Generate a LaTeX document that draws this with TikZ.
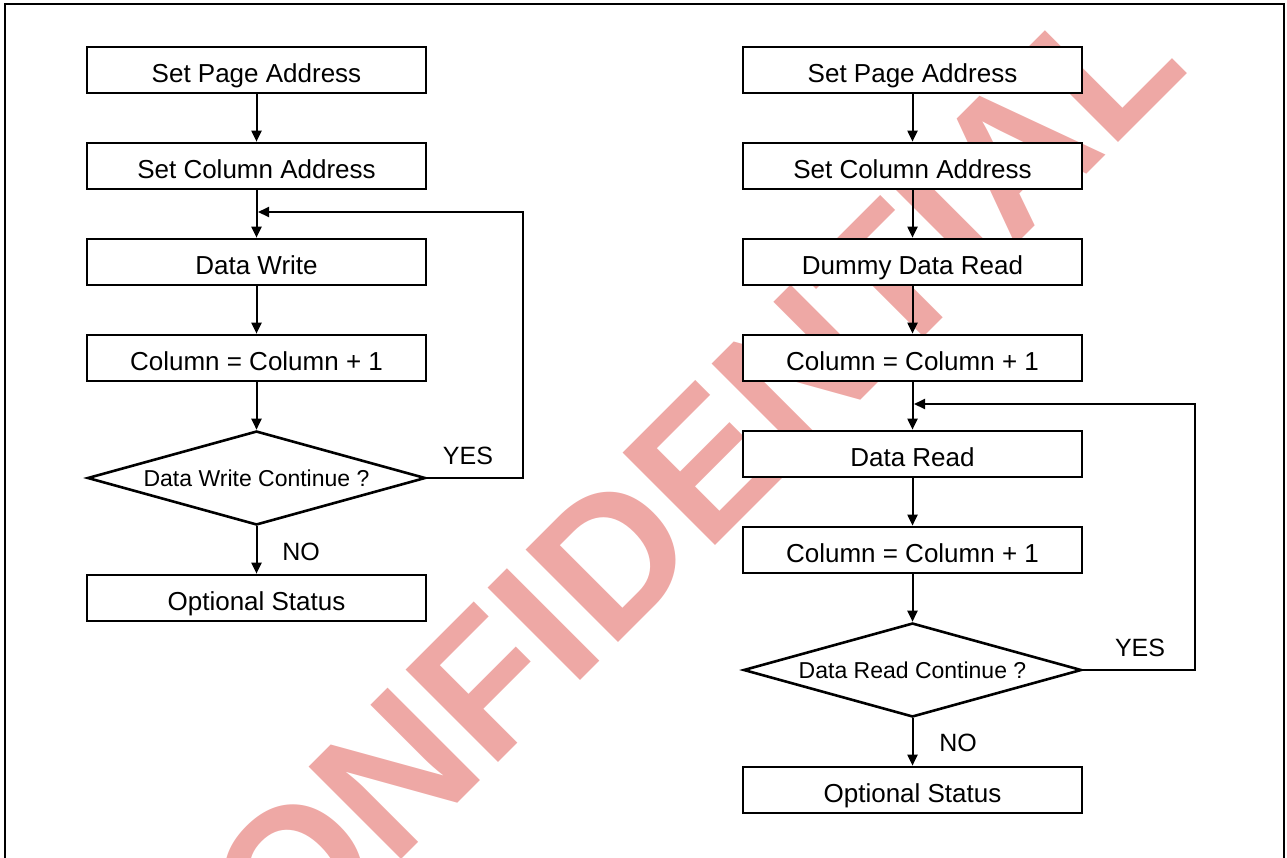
\documentclass[tikz,border=0pt]{standalone}
\usepackage{fontspec}
\setmainfont{Liberation Sans}
\usetikzlibrary{arrows.meta,shapes.geometric}
\definecolor{wmark}{RGB}{238,168,165}
\begin{document}
\begin{tikzpicture}[x=1pt,y=-1pt,
  box/.style={draw, line width=2.7pt, fill=white, minimum width=339pt, minimum height=46pt, inner sep=0pt, text height=24pt, text depth=0pt, font=\fontsize{26}{30}\selectfont},
  dec/.style={draw, diamond, line width=2.6pt, fill=white, aspect=3.55, minimum width=338pt, minimum height=94pt, inner sep=0pt, text height=16pt, text depth=0pt, font=\fontsize{23}{27}\selectfont},
  arr/.style={line width=2pt, -{Triangle[length=11pt,width=10pt]}},
  lbl/.style={font=\fontsize{25}{29}\selectfont, inner sep=0pt},
  wm/.style={text=wmark, font=\fontsize{190}{190}\selectfont\bfseries, inner sep=0pt, rotate=45, anchor=base}]
\useasboundingbox (0,0) rectangle (1287,857);
\clip (0,0) rectangle (1287,857);
% watermark
\node[wm] (wm) at (691.3,569.7) {CONFIDENTIAL};
% frame
\draw[line width=2pt] (5,900) -- (5,4) -- (1284,4) -- (1284,900);
% left flow
\node[box] (l1) at (256.5,70) {Set Page Address};
\node[box] (l2) at (256.5,166) {Set Column Address};
\node[box] (l3) at (256.5,262) {Data Write};
\node[box] (l4) at (256.5,358) {Column = Column + 1};
\node[dec] (ld) at (256.5,478) {Data Write Continue ?};
\node[box] (l5) at (256.5,598) {Optional Status};
\coordinate (lj) at (258,212);
\draw[arr] (l1) -- (l2);
\draw[arr] (l2) -- (l3);
\draw[arr] (l3) -- (l4);
\draw[arr] (l4) -- (ld);
\draw[arr] (ld) -- (l5);
\draw[arr] (ld.east) -- ++(96,0) |- (lj);
\node[lbl] (lyes) at (468,456) {YES};
\node[lbl] (lno) at (301,552) {NO};
% right flow
\node[box] (r1) at (912.5,70) {Set Page Address};
\node[box] (r2) at (912.5,166) {Set Column Address};
\node[box] (r3) at (912.5,262) {Dummy Data Read};
\node[box] (r4) at (912.5,358) {Column = Column + 1};
\node[box] (r5) at (912.5,454) {Data Read};
\node[box] (r6) at (912.5,550) {Column = Column + 1};
\node[dec] (rd) at (912.5,670) {Data Read Continue ?};
\node[box] (r7) at (912.5,790) {Optional Status};
\coordinate (rj) at (914,404);
\draw[arr] (r1) -- (r2);
\draw[arr] (r2) -- (r3);
\draw[arr] (r3) -- (r4);
\draw[arr] (r4) -- (r5);
\draw[arr] (r5) -- (r6);
\draw[arr] (r6) -- (rd);
\draw[arr] (rd) -- (r7);
\draw[arr] (rd.east) -- ++(112,0) |- (rj);
\node[lbl] (ryes) at (1140,648) {YES};
\node[lbl] (rno) at (958,743) {NO};
\end{tikzpicture}
\end{document}
